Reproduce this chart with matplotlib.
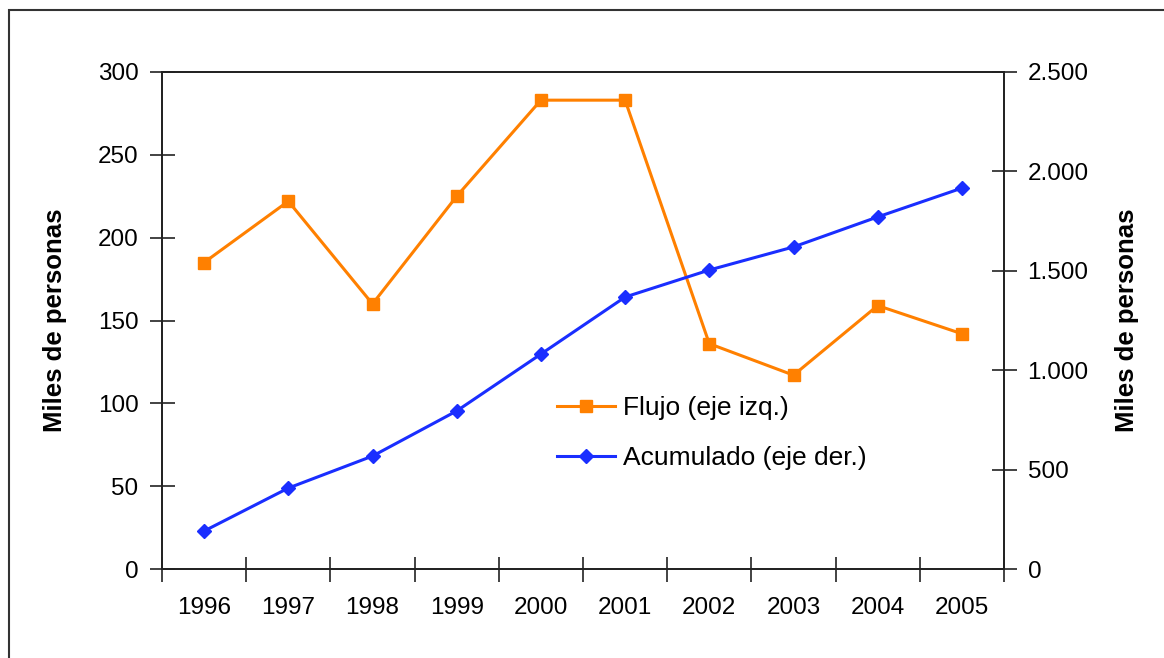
import matplotlib
matplotlib.use("Agg")
import matplotlib.pyplot as plt
from matplotlib.ticker import FuncFormatter, FixedLocator
from matplotlib.patches import Rectangle

plt.rcParams['font.family'] = ['Liberation Sans', 'DejaVu Sans']

years = ['1996', '1997', '1998', '1999', '2000', '2001', '2002', '2003', '2004', '2005']
flujo = [185, 222, 160, 225, 283, 283, 136, 117, 159, 142]
acumulado = [191, 407, 568, 795, 1081, 1368, 1504, 1620, 1771, 1916]
left_ticks = [0, 50, 100, 150, 200, 250, 300]
right_ticks = [0, 500, 1000, 1500, 2000, 2500]

orange = '#FF8000'
blue = '#1A2EFF'

fig = plt.figure(figsize=(11.64, 6.58), dpi=100)
fig.patch.set_facecolor('white')
# outer frame (cropped at right and bottom)
fig.patches.append(Rectangle((9 / 1164, -0.1), 1.2, 1 - 10 / 658 + 0.1,
                             transform=fig.transFigure, fill=False,
                             edgecolor='#333333', linewidth=1.5))

ax = fig.add_axes([162 / 1164, 1 - 569 / 658, (1004 - 162) / 1164, (569 - 72) / 658])
ax2 = ax.twinx()

x = list(range(len(years)))
l1, = ax.plot(x, flujo, color=orange, lw=2.2, marker='s', markersize=8.5,
              label='Flujo (eje izq.)', zorder=3)
l2, = ax2.plot(x, acumulado, color=blue, lw=2.2, marker='D', markersize=7,
               label='Acumulado (eje der.)', zorder=3)

ax.set_xlim(-0.5, len(years) - 0.5)
ax.set_ylim(0, 300)
ax2.set_ylim(0, 2500)

ax.xaxis.set_major_locator(FixedLocator([i - 0.5 for i in range(len(years) + 1)]))
ax.xaxis.set_major_formatter(FuncFormatter(lambda v, p: ''))
ax.xaxis.set_minor_locator(FixedLocator(x))
ax.set_xticklabels(years, minor=True)
ax.tick_params(axis='x', which='major', direction='inout', length=18, width=1.2, color='#222222')
ax.tick_params(axis='x', which='minor', length=0, pad=20, labelsize=17.5)

ax.set_yticks(left_ticks)
ax.tick_params(axis='y', direction='inout', length=18, width=1.2, color='#222222', pad=8, labelsize=17.5)
ax2.set_yticks(right_ticks)
ax2.yaxis.set_major_formatter(FuncFormatter(lambda v, p: f'{int(v):,}'.replace(',', '.')))
ax2.tick_params(axis='y', direction='inout', length=18, width=1.2, color='#222222', pad=8, labelsize=17.5)

for a in (ax, ax2):
    for s in a.spines.values():
        s.set_color('#222222')
        s.set_linewidth(1.3)

ax.set_ylabel('Miles de personas', fontsize=18.5, fontweight='bold')
ax.yaxis.set_label_coords((67 - 162) / 842, 0.5)
ax2.set_ylabel('Miles de personas', fontsize=18.5, fontweight='bold')
ax2.yaxis.set_label_coords((1115 - 162) / 842, 0.5)

leg = ax.legend(handles=[l1, l2], loc='upper left', bbox_to_anchor=((533 - 162) / 842, 1 - (372 - 72) / 497),
                frameon=False, fontsize=19, handlelength=2.2, labelspacing=1.0,
                handletextpad=0.3)

fig.savefig('out.png', dpi=100, facecolor='white')
